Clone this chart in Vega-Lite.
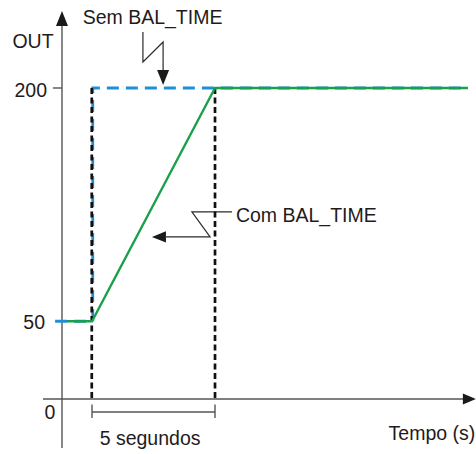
{
  "$schema": "https://vega.github.io/schema/vega-lite/v6.json",
  "width": 476,
  "height": 454,
  "autosize": "none",
  "padding": 0,
  "background": "white",
  "config": {"view": {"stroke": null}},
  "datasets": {
    "lines": [
      {"id": "yaxis", "seq": 1, "t": 0, "v": -31.5},
      {"id": "yaxis", "seq": 2, "t": 0, "v": 240},
      {"id": "xaxis", "seq": 1, "t": -0.77, "v": 0},
      {"id": "xaxis", "seq": 2, "t": 16.3, "v": 0},
      {"id": "tick200", "seq": 1, "t": -0.37, "v": 200},
      {"id": "tick200", "seq": 2, "t": 0, "v": 200},
      {"id": "dim", "seq": 1, "t": 1.22, "v": -8.4},
      {"id": "dim", "seq": 2, "t": 6.22, "v": -8.4},
      {"id": "ext1", "seq": 1, "t": 1.22, "v": -3.5},
      {"id": "ext1", "seq": 2, "t": 1.22, "v": -12.2},
      {"id": "ext2", "seq": 1, "t": 6.22, "v": -3.5},
      {"id": "ext2", "seq": 2, "t": 6.22, "v": -12.2},
      {"id": "leadSem", "seq": 1, "t": 3.29, "v": 236.0},
      {"id": "leadSem", "seq": 2, "t": 3.29, "v": 216.7},
      {"id": "leadSem", "seq": 3, "t": 4.11, "v": 229.6},
      {"id": "leadSem", "seq": 4, "t": 4.11, "v": 210.3},
      {"id": "leadCom", "seq": 1, "t": 6.91, "v": 120.3},
      {"id": "leadCom", "seq": 2, "t": 5.28, "v": 120.3},
      {"id": "leadCom", "seq": 3, "t": 6.02, "v": 104.2},
      {"id": "leadCom", "seq": 4, "t": 4.23, "v": 104.2},
      {"id": "sem", "seq": 1, "t": -0.28, "v": 50},
      {"id": "sem", "seq": 2, "t": 1.25, "v": 50},
      {"id": "sem", "seq": 3, "t": 1.25, "v": 200},
      {"id": "sem", "seq": 4, "t": 16.5, "v": 200},
      {"id": "mark1", "seq": 1, "t": 1.21, "v": 200},
      {"id": "mark1", "seq": 2, "t": 1.21, "v": 0},
      {"id": "mark2", "seq": 1, "t": 6.22, "v": 200},
      {"id": "mark2", "seq": 2, "t": 6.22, "v": 0},
      {"id": "com", "seq": 1, "t": 0.2, "v": 50},
      {"id": "com", "seq": 2, "t": 1.22, "v": 50},
      {"id": "com", "seq": 3, "t": 6.22, "v": 200},
      {"id": "com", "seq": 4, "t": 16.5, "v": 200}
    ],
    "arrows": [
      {"dir": "up", "t": 0, "v": 244.7},
      {"dir": "right", "t": 16.56, "v": 0},
      {"dir": "down", "t": 4.11, "v": 206.8},
      {"dir": "left", "t": 3.94, "v": 104.2}
    ],
    "labels": [
      {"pos": "center", "text": "OUT", "t": -1.18, "v": 225.5},
      {"pos": "right", "text": "200", "t": -0.61, "v": 194.5},
      {"pos": "right", "text": "50", "t": -0.69, "v": 45.1},
      {"pos": "center", "text": "0", "t": -0.49, "v": -12.9},
      {"pos": "center", "text": "Sem BAL_TIME", "t": 3.68, "v": 241.3},
      {"pos": "left", "text": "Com BAL_TIME", "t": 7.07, "v": 114.1},
      {"pos": "right", "text": "Tempo (s)", "t": 16.8, "v": -26.4},
      {"pos": "center", "text": "5 segundos", "t": 3.58, "v": -29.6}
    ]
  },
  "encoding": {
    "x": {"field": "t", "type": "quantitative", "scale": {"domain": [-2.52, 16.829], "nice": false, "zero": false}, "axis": null},
    "y": {"field": "v", "type": "quantitative", "scale": {"domain": [-35.37, 256.59], "nice": false, "zero": false}, "axis": null}
  },
  "layer": [
    {
      "data": {"name": "lines"},
      "transform": [{"filter": {"field": "id", "oneOf": ["yaxis", "xaxis", "tick200", "dim", "ext1", "ext2"]}}],
      "mark": {"type": "line", "color": "#555555", "strokeWidth": 1.4},
      "encoding": {"detail": {"field": "id"}, "order": {"field": "seq"}}
    },
    {
      "data": {"name": "lines"},
      "transform": [{"filter": {"field": "id", "oneOf": ["leadSem", "leadCom"]}}],
      "mark": {"type": "line", "color": "#2a2a2a", "strokeWidth": 1.2},
      "encoding": {"detail": {"field": "id"}, "order": {"field": "seq"}}
    },
    {
      "data": {"name": "lines"},
      "transform": [{"filter": {"field": "id", "equal": "sem"}}],
      "mark": {"type": "line", "color": "#1e8fd6", "strokeWidth": 2.8, "strokeDash": [12, 7], "strokeCap": "butt"},
      "encoding": {"order": {"field": "seq"}}
    },
    {
      "data": {"name": "lines"},
      "transform": [{"filter": {"field": "id", "oneOf": ["mark1", "mark2"]}}],
      "mark": {"type": "line", "color": "#111111", "strokeWidth": 2.7, "strokeDash": [6, 3.5], "strokeCap": "butt"},
      "encoding": {"detail": {"field": "id"}, "order": {"field": "seq"}}
    },
    {
      "data": {"name": "lines"},
      "transform": [{"filter": {"field": "id", "equal": "com"}}],
      "mark": {"type": "line", "color": "#19a04b", "strokeWidth": 2.3},
      "encoding": {"order": {"field": "seq"}}
    },
    {
      "data": {"name": "arrows"},
      "transform": [{"filter": {"field": "dir", "equal": "up"}}],
      "mark": {"type": "point", "shape": "M0,-1L-0.8,1L0.8,1Z", "size": 225, "filled": true, "color": "#1a1a1a", "opacity": 1}
    },
    {
      "data": {"name": "arrows"},
      "transform": [{"filter": {"field": "dir", "equal": "right"}}],
      "mark": {"type": "point", "shape": "M1,0L-1,-0.85L-1,0.85Z", "size": 169, "filled": true, "color": "#1a1a1a", "opacity": 1}
    },
    {
      "data": {"name": "arrows"},
      "transform": [{"filter": {"field": "dir", "equal": "down"}}],
      "mark": {"type": "point", "shape": "M0,1L-0.8,-1L0.8,-1Z", "size": 225, "filled": true, "color": "#1a1a1a", "opacity": 1}
    },
    {
      "data": {"name": "arrows"},
      "transform": [{"filter": {"field": "dir", "equal": "left"}}],
      "mark": {"type": "point", "shape": "M-1,0L1,-0.8L1,0.8Z", "size": 196, "filled": true, "color": "#1a1a1a", "opacity": 1}
    },
    {
      "data": {"name": "labels"},
      "transform": [{"filter": {"field": "pos", "equal": "center"}}],
      "mark": {"type": "text", "align": "center", "baseline": "alphabetic", "font": "Liberation Sans", "fontSize": 19.5, "color": "#1f1b1c"},
      "encoding": {"text": {"field": "text"}}
    },
    {
      "data": {"name": "labels"},
      "transform": [{"filter": {"field": "pos", "equal": "right"}}],
      "mark": {"type": "text", "align": "right", "baseline": "alphabetic", "font": "Liberation Sans", "fontSize": 19.5, "color": "#1f1b1c"},
      "encoding": {"text": {"field": "text"}}
    },
    {
      "data": {"name": "labels"},
      "transform": [{"filter": {"field": "pos", "equal": "left"}}],
      "mark": {"type": "text", "align": "left", "baseline": "alphabetic", "font": "Liberation Sans", "fontSize": 19.5, "color": "#1f1b1c"},
      "encoding": {"text": {"field": "text"}}
    }
  ]
}
